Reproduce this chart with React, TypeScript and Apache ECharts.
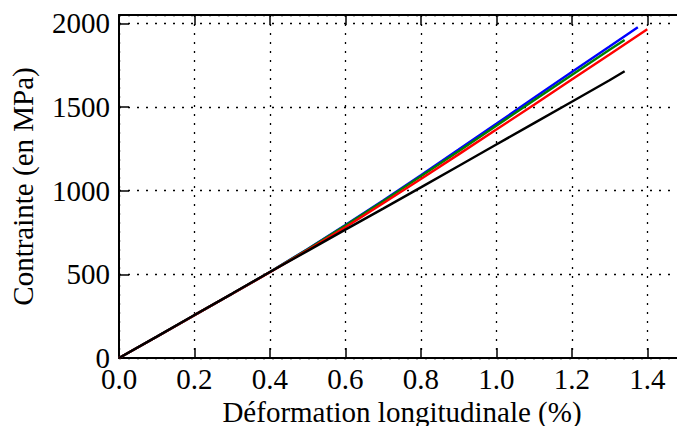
import React, { useEffect, useRef } from "react";
import * as echarts from "echarts";

const strain = [0, 0.1, 0.2, 0.3, 0.4, 0.5, 0.6, 0.7, 0.8, 0.9, 1.0, 1.1, 1.2, 1.3];
const blueStress = [0, 127, 256, 384, 514, 652, 795, 942, 1093, 1246, 1400, 1555, 1710, 1862];
const blueEnd: [number, number] = [1.375, 1977];
const greenStress = [0, 127, 256, 384, 514, 650, 792, 937, 1086, 1236, 1388, 1540, 1692, 1842];
const greenEnd: [number, number] = [1.34, 1900];
const redStress = [0, 127, 256, 384, 513, 645, 782, 925, 1070, 1217, 1365, 1514, 1664, 1814];
const redEnd: [number, number] = [1.4, 1965];
const blackStress = [0, 128, 257, 385, 514, 640, 767, 893, 1020, 1148, 1276, 1404, 1532, 1660];
const blackEnd: [number, number] = [1.34, 1714];

const xTitle = "Déformation longitudinale (%)";
const yTitle = "Contrainte (en MPa)";

const FONT = "'Liberation Serif', 'DejaVu Serif', serif";
const FS = 29;

function pts(ys: number[], end: [number, number]) {
  const out: [number, number][] = strain.map((x, i) => [x, ys[i]] as [number, number]);
  out.push(end);
  return out;
}

export default function App() {
  const ref = useRef<HTMLDivElement>(null);
  useEffect(() => {
    if (!ref.current) return;
    const chart = echarts.init(ref.current, null, { renderer: "svg" });
    const line = (name: string, color: string, data: [number, number][]) => ({
      name,
      type: "line",
      data,
      showSymbol: false,
      symbol: "none",
      smooth: false,
      lineStyle: { color, width: 2.4 },
      itemStyle: { color },
      z: 3,
    });
    chart.setOption({
      animation: false,
      backgroundColor: "#ffffff",
      textStyle: { fontFamily: FONT },
      grid: {
        left: 119,
        top: 15,
        width: 566,
        height: 343,
        containLabel: false,
        outerBoundsMode: "none",
      },
      xAxis: [
        {
          type: "value",
          min: 0,
          max: 1.5,
          interval: 0.2,
          position: "bottom",
          name: xTitle,
          nameLocation: "middle",
          nameGap: 35,
          nameTextStyle: { fontFamily: FONT, fontSize: FS, color: "#000" },
          axisLine: { show: true, lineStyle: { color: "#000", width: 2 } },
          axisTick: { show: true, inside: true, length: 10, lineStyle: { color: "#000", width: 1.5 } },
          axisLabel: {
            show: true,
            margin: 6,
            fontFamily: FONT,
            fontSize: FS,
            color: "#000",
            showMaxLabel: false,
            formatter: (v: number) => v.toFixed(1),
          },
          splitLine: { show: true, lineStyle: { color: "#000", width: 1.3, type: [2, 7] } },
        },
        {
          type: "value",
          min: 0,
          max: 1.5,
          interval: 0.2,
          position: "top",
          axisLine: { show: true, lineStyle: { color: "#000", width: 2 } },
          axisTick: { show: true, inside: true, length: 10, lineStyle: { color: "#000", width: 1.5 } },
          axisLabel: { show: false },
          splitLine: { show: false },
        },
      ],
      yAxis: [
        {
          type: "value",
          min: 0,
          max: 2050,
          interval: 500,
          position: "left",
          name: yTitle,
          nameLocation: "middle",
          nameGap: 82,
          nameTextStyle: { fontFamily: FONT, fontSize: FS, color: "#000" },
          axisLine: { show: true, lineStyle: { color: "#000", width: 2 } },
          axisTick: { show: true, inside: true, length: 10, lineStyle: { color: "#000", width: 1.5 } },
          axisLabel: {
            show: true,
            margin: 9,
            fontFamily: FONT,
            fontSize: FS,
            color: "#000",
            showMaxLabel: false,
            formatter: (v: number) => String(v),
          },
          splitLine: { show: true, lineStyle: { color: "#000", width: 1.3, type: [2, 7] } },
        },
      ],
      series: [
        line("blue", "#0000ff", pts(blueStress, blueEnd)),
        line("green", "#008000", pts(greenStress, greenEnd)),
        line("red", "#ff0000", pts(redStress, redEnd)),
        line("black", "#000000", pts(blackStress, blackEnd)),
      ],
    });
    return () => chart.dispose();
  }, []);
  return (
    <div
      ref={ref}
      style={{ position: "fixed", left: 0, top: 0, width: 677, height: 426, overflow: "hidden", background: "#fff" }}
    />
  );
}
